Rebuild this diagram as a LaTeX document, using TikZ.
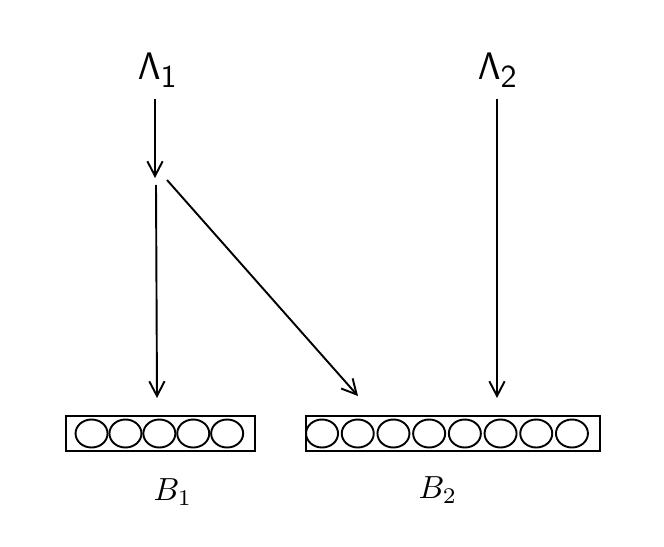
\documentclass[tikz,border=0pt]{standalone}
\usetikzlibrary{calc,arrows.meta}

\tikzset{
    buffer/.style={draw, rectangle, minimum height=0.385cm, inner sep=0pt},
    slot/.style={draw},
    source/.style={font=\large},
}
\newcommand{\srcname}[1]{$\mathsf{\Lambda}_{\mbox{\normalsize$\mathsf{#1}$}}$}

\begin{document}
\begin{tikzpicture}[x=1.1cm, y=1.1cm, semithick, >={Straight Barb[length=4.6pt,width=4.8pt]}]

    \useasboundingbox (0,0) rectangle (6.64,5.46);

    % --- Forrasok ---
    \node[source] (lam1) at (1.58,4.76) {\srcname{1}};
    \node[source] (lam2) at (4.98,4.76) {\srcname{2}};

    % --- Pufferek ---
    \node[buffer, minimum width=2.079cm] (b1) at (1.605,1.125) {};
    \node[buffer, minimum width=3.234cm] (b2) at (4.53,1.125) {};

    % Helyek a pufferekben
    \foreach \i in {0,...,4}
        \draw[slot] ($(b1.west)+(0.265+\i*0.339,0)$) ellipse (0.16 and 0.14);
    \foreach \i in {0,...,7}
        \draw[slot] ($(b2.west)+(0.17+\i*0.357,0)$) ellipse (0.16 and 0.14);

    \node (lab1) at (1.73,0.54) {$B_1$};
    \node (lab2) at (4.38,0.56) {$B_2$};

    % --- Elagazas es nyilak ---
    \coordinate (split) at (1.55,3.68);
    \coordinate (fork1) at (1.56,3.61);
    \coordinate (fork2) at (1.67,3.66);
    \coordinate (in1) at (1.57,1.48);
    \coordinate (in2) at (3.58,1.50);
    \coordinate (in3) at (4.97,1.48);

    \draw[->] (lam1.south -| split) -- (split);
    \draw[->] (fork1) -- (in1);
    \draw[->] (fork2) -- (in2);
    \draw[->] (lam2.south -| in3) -- (in3);

\end{tikzpicture}
\end{document}
